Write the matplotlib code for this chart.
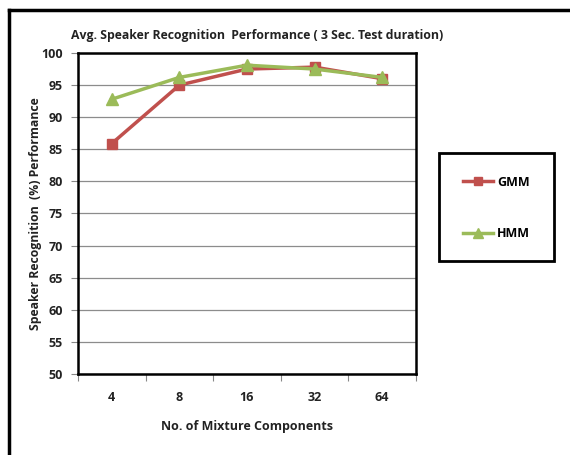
import matplotlib
matplotlib.use("Agg")
import matplotlib.pyplot as plt
from matplotlib.patches import Rectangle
from matplotlib.lines import Line2D

categories = ["4", "8", "16", "32", "64"]
gmm = [85.9, 95.0, 97.5, 97.8, 96.0]
hmm = [92.8, 96.2, 98.1, 97.5, 96.2]
yticks = [50, 55, 60, 65, 70, 75, 80, 85, 90, 95, 100]

plt.rcParams['font.family'] = ['Open Sans', 'DejaVu Sans']

W, H = 570, 455
fig = plt.figure(figsize=(W/100, H/100), dpi=100)

# outer border (top + left only)
fig.add_artist(Line2D([9/W, 1.0], [1-10/H, 1-10/H], color='black', lw=2.5, transform=fig.transFigure))
fig.add_artist(Line2D([9/W, 9/W], [1-10/H, 1-453/H], color='black', lw=2.5, transform=fig.transFigure))

left, right, top, bottom = 78, 416, 53, 374
ax = fig.add_axes([left/W, 1-bottom/H, (right-left)/W, (bottom-top)/H])

x = list(range(len(categories)))
gmm_color = '#c0504d'
hmm_color = '#9bbb59'
l1, = ax.plot(x, gmm, color=gmm_color, lw=2.5, marker='s', markersize=7, label='GMM')
l2, = ax.plot(x, hmm, color=hmm_color, lw=2.5, marker='^', markersize=8, label='HMM')

ax.set_xlim(-0.5, len(categories)-0.5)
ax.set_ylim(50, 100)
ax.set_yticks(yticks)
ax.set_yticklabels([str(v) for v in yticks], fontsize=9, fontweight='bold', color='#222222')
ax.set_xticks([i - 0.5 for i in range(len(categories)+1)])
ax.set_xticklabels([])
ax.set_xticks(x, minor=True)
ax.set_xticklabels(categories, minor=True, fontsize=9, fontweight='bold', color='#222222')
ax.tick_params(axis='x', which='major', length=5, direction='out', color='#888888')
ax.tick_params(axis='x', which='minor', length=0, pad=12)
ax.tick_params(axis='y', length=5, direction='out', color='#888888', pad=6)
ax.yaxis.grid(True, color='#8c8c8c', lw=0.9)
ax.set_axisbelow(True)
for s in ax.spines.values():
    s.set_linewidth(1.8)
    s.set_color('black')

ax.set_title("Avg. Speaker Recognition  Performance ( 3 Sec. Test duration)",
             fontsize=8.8, fontweight='bold', color='#222222', pad=10, x=0.53)
ax.set_xlabel("No. of Mixture Components", fontsize=9, fontweight='bold', color='#222222', labelpad=12)
ax.set_ylabel("Speaker Recognition  (%) Performance", fontsize=8.8, fontweight='bold', color='#222222', labelpad=-1)

# legend box
lb_left, lb_right, lb_top, lb_bottom = 439, 554, 153, 261
fig.add_artist(Rectangle((lb_left/W, 1-lb_bottom/H), (lb_right-lb_left)/W, (lb_bottom-lb_top)/H,
                         transform=fig.transFigure, fill=False, edgecolor='black', lw=2))
leg = fig.legend(handles=[l1, l2], loc='center', bbox_to_anchor=((lb_left+lb_right)/2/W, 1-(lb_top+lb_bottom)/2/H - 1/H),
                 frameon=False, prop={'size': 9, 'weight': 'bold'}, labelspacing=3.1,
                 handlelength=2.4, handletextpad=0.3, markerscale=0.9)

fig.savefig("out.png", dpi=100, facecolor='white')
